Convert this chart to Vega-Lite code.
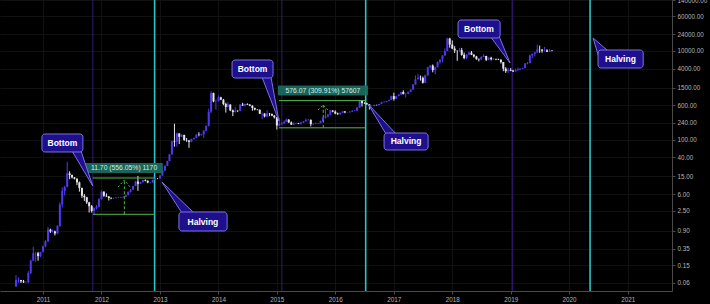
{
  "$schema": "https://vega.github.io/schema/vega-lite/v6.json",
  "autosize": "none",
  "width": 672,
  "height": 291,
  "padding": {"left": 0, "top": 0, "right": 38, "bottom": 13},
  "background": "#000000",
  "config": {
    "view": {"stroke": null},
    "axis": {"gridColor": "#111111", "domainColor": "#4a4a4a", "tickColor": "#4a4a4a", "labelColor": "#b4b4b4", "labelFont": "Liberation Sans", "labelFontSize": 6.3, "tickSize": 3, "labelPadding": 2, "grid": true}
  },
  "datasets": {
    "btc": [
      {"d":"2010-07-16","o":0.05,"h":0.09,"l":0.05,"c":0.07},
      {"d":"2010-08-01","o":0.07,"h":0.08,"l":0.06,"c":0.07},
      {"d":"2010-08-16","o":0.07,"h":0.07,"l":0.06,"c":0.065},
      {"d":"2010-09-01","o":0.065,"h":0.07,"l":0.06,"c":0.062},
      {"d":"2010-09-16","o":0.062,"h":0.065,"l":0.06,"c":0.062},
      {"d":"2010-10-01","o":0.062,"h":0.11,"l":0.06,"c":0.1},
      {"d":"2010-10-16","o":0.1,"h":0.2,"l":0.095,"c":0.19},
      {"d":"2010-11-01","o":0.19,"h":0.39,"l":0.19,"c":0.28},
      {"d":"2010-11-16","o":0.28,"h":0.3,"l":0.18,"c":0.28},
      {"d":"2010-12-01","o":0.28,"h":0.3,"l":0.19,"c":0.24},
      {"d":"2010-12-16","o":0.24,"h":0.3,"l":0.23,"c":0.3},
      {"d":"2011-01-01","o":0.3,"h":0.42,"l":0.29,"c":0.4},
      {"d":"2011-01-16","o":0.4,"h":0.55,"l":0.38,"c":0.52},
      {"d":"2011-02-01","o":0.52,"h":1.1,"l":0.5,"c":0.95},
      {"d":"2011-02-16","o":0.95,"h":1.0,"l":0.8,"c":0.86},
      {"d":"2011-03-01","o":0.86,"h":0.95,"l":0.82,"c":0.87},
      {"d":"2011-03-16","o":0.87,"h":0.9,"l":0.7,"c":0.78},
      {"d":"2011-04-01","o":0.78,"h":1.2,"l":0.75,"c":1.15},
      {"d":"2011-04-16","o":1.15,"h":3.9,"l":1.1,"c":3.5},
      {"d":"2011-05-01","o":3.5,"h":8.5,"l":3.0,"c":7.0},
      {"d":"2011-05-16","o":7.0,"h":9.2,"l":5.6,"c":8.7},
      {"d":"2011-06-01","o":8.7,"h":31.9,"l":8.5,"c":17.5},
      {"d":"2011-06-16","o":17.5,"h":19.5,"l":13,"c":16.1},
      {"d":"2011-07-01","o":16.1,"h":16.5,"l":13.5,"c":14.2},
      {"d":"2011-07-16","o":14.2,"h":14.5,"l":12.8,"c":13.3},
      {"d":"2011-08-01","o":13.3,"h":13.5,"l":9.5,"c":11.0},
      {"d":"2011-08-16","o":11.0,"h":11.5,"l":6.8,"c":8.2},
      {"d":"2011-09-01","o":8.2,"h":8.4,"l":4.9,"c":5.5},
      {"d":"2011-09-16","o":5.5,"h":6.0,"l":4.2,"c":5.1},
      {"d":"2011-10-01","o":5.1,"h":5.2,"l":3.6,"c":3.9},
      {"d":"2011-10-16","o":3.9,"h":4.0,"l":2.3,"c":3.2},
      {"d":"2011-11-01","o":3.2,"h":3.4,"l":2.3,"c":2.5},
      {"d":"2011-11-16","o":2.5,"h":3.0,"l":2.0,"c":2.9},
      {"d":"2011-12-01","o":2.9,"h":3.4,"l":2.7,"c":3.1},
      {"d":"2011-12-16","o":3.1,"h":4.8,"l":3.0,"c":4.6},
      {"d":"2012-01-01","o":4.6,"h":7.2,"l":4.5,"c":6.8},
      {"d":"2012-01-16","o":6.8,"h":6.9,"l":5.2,"c":5.5},
      {"d":"2012-02-01","o":5.5,"h":6.2,"l":5.2,"c":5.3},
      {"d":"2012-02-16","o":5.3,"h":5.4,"l":4.3,"c":4.9},
      {"d":"2012-03-01","o":4.9,"h":5.1,"l":4.6,"c":4.8},
      {"d":"2012-03-16","o":4.8,"h":5.0,"l":4.7,"c":4.9},
      {"d":"2012-04-01","o":4.9,"h":5.1,"l":4.8,"c":5.0},
      {"d":"2012-04-16","o":5.0,"h":5.2,"l":4.9,"c":5.05},
      {"d":"2012-05-01","o":5.05,"h":5.2,"l":4.9,"c":5.1},
      {"d":"2012-05-16","o":5.1,"h":5.3,"l":5.0,"c":5.2},
      {"d":"2012-06-01","o":5.2,"h":5.8,"l":5.1,"c":5.7},
      {"d":"2012-06-16","o":5.7,"h":6.9,"l":5.6,"c":6.7},
      {"d":"2012-07-01","o":6.7,"h":7.8,"l":6.5,"c":7.5},
      {"d":"2012-07-16","o":7.5,"h":9.3,"l":7.4,"c":9.1},
      {"d":"2012-08-01","o":9.1,"h":11.8,"l":9.0,"c":11.5},
      {"d":"2012-08-16","o":11.5,"h":15.4,"l":7.1,"c":10.2},
      {"d":"2012-09-01","o":10.2,"h":11.3,"l":10.0,"c":11.1},
      {"d":"2012-09-16","o":11.1,"h":12.6,"l":11.0,"c":12.4},
      {"d":"2012-10-01","o":12.4,"h":12.9,"l":11.6,"c":12.0},
      {"d":"2012-10-16","o":12.0,"h":12.1,"l":10.5,"c":10.9},
      {"d":"2012-11-01","o":10.9,"h":11.2,"l":10.4,"c":11.0},
      {"d":"2012-11-16","o":11.0,"h":12.7,"l":10.9,"c":12.5},
      {"d":"2012-12-01","o":12.5,"h":13.8,"l":12.4,"c":13.6},
      {"d":"2012-12-16","o":13.6,"h":13.7,"l":13.0,"c":13.5},
      {"d":"2013-01-01","o":13.5,"h":15.9,"l":13.2,"c":15.7},
      {"d":"2013-01-16","o":15.7,"h":20.6,"l":15.3,"c":20.4},
      {"d":"2013-02-01","o":20.4,"h":26.5,"l":19.5,"c":26.0},
      {"d":"2013-02-16","o":26.0,"h":33.8,"l":25.8,"c":33.4},
      {"d":"2013-03-01","o":33.4,"h":48,"l":33,"c":47},
      {"d":"2013-03-16","o":47,"h":95,"l":46,"c":93},
      {"d":"2013-04-01","o":93,"h":230,"l":70,"c":90},
      {"d":"2013-04-16","o":90,"h":145,"l":70,"c":139},
      {"d":"2013-05-01","o":139,"h":140,"l":80,"c":117},
      {"d":"2013-05-16","o":117,"h":133,"l":115,"c":129},
      {"d":"2013-06-01","o":129,"h":129,"l":95,"c":99},
      {"d":"2013-06-16","o":99,"h":110,"l":90,"c":97},
      {"d":"2013-07-01","o":97,"h":97,"l":66,"c":90},
      {"d":"2013-07-16","o":90,"h":105,"l":88,"c":105},
      {"d":"2013-08-01","o":105,"h":112,"l":100,"c":110},
      {"d":"2013-08-16","o":110,"h":135,"l":108,"c":130},
      {"d":"2013-09-01","o":130,"h":148,"l":120,"c":128},
      {"d":"2013-09-16","o":128,"h":136,"l":124,"c":133},
      {"d":"2013-10-01","o":133,"h":165,"l":110,"c":160},
      {"d":"2013-10-16","o":160,"h":210,"l":155,"c":205},
      {"d":"2013-11-01","o":205,"h":500,"l":200,"c":430},
      {"d":"2013-11-16","o":430,"h":1240,"l":400,"c":1130},
      {"d":"2013-12-01","o":1130,"h":1150,"l":700,"c":730},
      {"d":"2013-12-16","o":730,"h":800,"l":480,"c":735},
      {"d":"2014-01-01","o":735,"h":1000,"l":730,"c":900},
      {"d":"2014-01-16","o":900,"h":930,"l":780,"c":800},
      {"d":"2014-02-01","o":800,"h":830,"l":600,"c":640},
      {"d":"2014-02-16","o":640,"h":680,"l":410,"c":550},
      {"d":"2014-03-01","o":550,"h":700,"l":540,"c":620},
      {"d":"2014-03-16","o":620,"h":630,"l":440,"c":460},
      {"d":"2014-04-01","o":460,"h":480,"l":340,"c":420},
      {"d":"2014-04-16","o":420,"h":550,"l":410,"c":450},
      {"d":"2014-05-01","o":450,"h":460,"l":420,"c":445},
      {"d":"2014-05-16","o":445,"h":630,"l":440,"c":620},
      {"d":"2014-06-01","o":620,"h":680,"l":580,"c":590},
      {"d":"2014-06-16","o":590,"h":650,"l":560,"c":640},
      {"d":"2014-07-01","o":640,"h":660,"l":610,"c":620},
      {"d":"2014-07-16","o":620,"h":630,"l":570,"c":585},
      {"d":"2014-08-01","o":585,"h":600,"l":450,"c":520},
      {"d":"2014-08-16","o":520,"h":530,"l":460,"c":480},
      {"d":"2014-09-01","o":480,"h":490,"l":460,"c":475},
      {"d":"2014-09-16","o":475,"h":480,"l":380,"c":385},
      {"d":"2014-10-01","o":385,"h":410,"l":290,"c":390},
      {"d":"2014-10-16","o":390,"h":395,"l":320,"c":335},
      {"d":"2014-11-01","o":335,"h":460,"l":320,"c":390},
      {"d":"2014-11-16","o":390,"h":400,"l":340,"c":380},
      {"d":"2014-12-01","o":380,"h":390,"l":340,"c":350},
      {"d":"2014-12-16","o":350,"h":360,"l":300,"c":320},
      {"d":"2015-01-01","o":320,"h":320,"l":170,"c":210},
      {"d":"2015-01-16","o":210,"h":310,"l":200,"c":230},
      {"d":"2015-02-01","o":230,"h":250,"l":215,"c":235},
      {"d":"2015-02-16","o":235,"h":270,"l":230,"c":255},
      {"d":"2015-03-01","o":255,"h":300,"l":255,"c":285},
      {"d":"2015-03-16","o":285,"h":290,"l":240,"c":245},
      {"d":"2015-04-01","o":245,"h":260,"l":215,"c":220},
      {"d":"2015-04-16","o":220,"h":245,"l":215,"c":235},
      {"d":"2015-05-01","o":235,"h":245,"l":228,"c":237},
      {"d":"2015-05-16","o":237,"h":240,"l":225,"c":230},
      {"d":"2015-06-01","o":230,"h":250,"l":220,"c":245},
      {"d":"2015-06-16","o":245,"h":265,"l":240,"c":260},
      {"d":"2015-07-01","o":260,"h":300,"l":255,"c":280},
      {"d":"2015-07-16","o":280,"h":295,"l":270,"c":282},
      {"d":"2015-08-01","o":282,"h":285,"l":200,"c":225},
      {"d":"2015-08-16","o":225,"h":235,"l":215,"c":230},
      {"d":"2015-09-01","o":230,"h":245,"l":225,"c":232},
      {"d":"2015-09-16","o":232,"h":240,"l":225,"c":237},
      {"d":"2015-10-01","o":237,"h":270,"l":235,"c":265},
      {"d":"2015-10-16","o":265,"h":320,"l":260,"c":315},
      {"d":"2015-11-01","o":315,"h":500,"l":300,"c":335},
      {"d":"2015-11-16","o":335,"h":380,"l":320,"c":370},
      {"d":"2015-12-01","o":370,"h":470,"l":355,"c":455},
      {"d":"2015-12-16","o":455,"h":465,"l":415,"c":430},
      {"d":"2016-01-01","o":430,"h":460,"l":375,"c":390},
      {"d":"2016-01-16","o":390,"h":410,"l":365,"c":375},
      {"d":"2016-02-01","o":375,"h":410,"l":365,"c":405},
      {"d":"2016-02-16","o":405,"h":440,"l":395,"c":435},
      {"d":"2016-03-01","o":435,"h":440,"l":395,"c":415},
      {"d":"2016-03-16","o":415,"h":420,"l":405,"c":416},
      {"d":"2016-04-01","o":416,"h":435,"l":410,"c":430},
      {"d":"2016-04-16","o":430,"h":465,"l":425,"c":450},
      {"d":"2016-05-01","o":450,"h":465,"l":440,"c":455},
      {"d":"2016-05-16","o":455,"h":550,"l":440,"c":530},
      {"d":"2016-06-01","o":530,"h":780,"l":530,"c":760},
      {"d":"2016-06-16","o":760,"h":770,"l":560,"c":670},
      {"d":"2016-07-01","o":670,"h":700,"l":640,"c":665},
      {"d":"2016-07-16","o":665,"h":680,"l":620,"c":625},
      {"d":"2016-08-01","o":625,"h":630,"l":480,"c":575},
      {"d":"2016-08-16","o":575,"h":590,"l":565,"c":578},
      {"d":"2016-09-01","o":578,"h":615,"l":570,"c":610},
      {"d":"2016-09-16","o":610,"h":615,"l":590,"c":605},
      {"d":"2016-10-01","o":605,"h":645,"l":600,"c":640},
      {"d":"2016-10-16","o":640,"h":720,"l":630,"c":700},
      {"d":"2016-11-01","o":700,"h":740,"l":690,"c":710},
      {"d":"2016-11-16","o":710,"h":750,"l":700,"c":745},
      {"d":"2016-12-01","o":745,"h":795,"l":740,"c":790},
      {"d":"2016-12-16","o":790,"h":980,"l":785,"c":960},
      {"d":"2017-01-01","o":960,"h":1150,"l":760,"c":830},
      {"d":"2017-01-16","o":830,"h":975,"l":820,"c":970},
      {"d":"2017-02-01","o":970,"h":1060,"l":950,"c":1040},
      {"d":"2017-02-16","o":1040,"h":1210,"l":1030,"c":1190},
      {"d":"2017-03-01","o":1190,"h":1300,"l":1050,"c":1070},
      {"d":"2017-03-16","o":1070,"h":1110,"l":890,"c":1080},
      {"d":"2017-04-01","o":1080,"h":1210,"l":1060,"c":1200},
      {"d":"2017-04-16","o":1200,"h":1360,"l":1180,"c":1350},
      {"d":"2017-05-01","o":1350,"h":1800,"l":1340,"c":1750},
      {"d":"2017-05-16","o":1750,"h":2800,"l":1740,"c":2300},
      {"d":"2017-06-01","o":2300,"h":3000,"l":2300,"c":2500},
      {"d":"2017-06-16","o":2500,"h":2800,"l":2150,"c":2480},
      {"d":"2017-07-01","o":2480,"h":2650,"l":1840,"c":1920},
      {"d":"2017-07-16","o":1920,"h":2900,"l":1900,"c":2850},
      {"d":"2017-08-01","o":2850,"h":4400,"l":2700,"c":4300},
      {"d":"2017-08-16","o":4300,"h":4750,"l":3950,"c":4700},
      {"d":"2017-09-01","o":4700,"h":4950,"l":3300,"c":3700},
      {"d":"2017-09-16","o":3700,"h":4400,"l":3000,"c":4300},
      {"d":"2017-10-01","o":4300,"h":5800,"l":4250,"c":5600},
      {"d":"2017-10-16","o":5600,"h":6450,"l":5150,"c":6400},
      {"d":"2017-11-01","o":6400,"h":7900,"l":5600,"c":7900},
      {"d":"2017-11-16","o":7900,"h":11400,"l":7700,"c":9900},
      {"d":"2017-12-01","o":9900,"h":19800,"l":9900,"c":19000},
      {"d":"2017-12-16","o":19000,"h":19700,"l":11800,"c":13900},
      {"d":"2018-01-01","o":13900,"h":17200,"l":11000,"c":11300},
      {"d":"2018-01-16","o":11300,"h":12800,"l":9000,"c":10200},
      {"d":"2018-02-01","o":10200,"h":10300,"l":6000,"c":10100},
      {"d":"2018-02-16","o":10100,"h":11700,"l":9400,"c":10400},
      {"d":"2018-03-01","o":10400,"h":11700,"l":7800,"c":8200},
      {"d":"2018-03-16","o":8200,"h":9200,"l":6500,"c":6900},
      {"d":"2018-04-01","o":6900,"h":8400,"l":6500,"c":8300},
      {"d":"2018-04-16","o":8300,"h":9750,"l":8000,"c":9200},
      {"d":"2018-05-01","o":9200,"h":9950,"l":8050,"c":8200},
      {"d":"2018-05-16","o":8200,"h":8500,"l":7050,"c":7500},
      {"d":"2018-06-01","o":7500,"h":7750,"l":6350,"c":6500},
      {"d":"2018-06-16","o":6500,"h":6800,"l":5800,"c":6400},
      {"d":"2018-07-01","o":6400,"h":7550,"l":6300,"c":7300},
      {"d":"2018-07-16","o":7300,"h":8500,"l":7200,"c":7700},
      {"d":"2018-08-01","o":7700,"h":7750,"l":5900,"c":6300},
      {"d":"2018-08-16","o":6300,"h":7150,"l":6200,"c":7000},
      {"d":"2018-09-01","o":7000,"h":7400,"l":6100,"c":6500},
      {"d":"2018-09-16","o":6500,"h":6800,"l":6300,"c":6600},
      {"d":"2018-10-01","o":6600,"h":6700,"l":6200,"c":6450},
      {"d":"2018-10-16","o":6450,"h":6700,"l":6250,"c":6300},
      {"d":"2018-11-01","o":6300,"h":6550,"l":5200,"c":5600},
      {"d":"2018-11-16","o":5600,"h":5650,"l":3500,"c":4000},
      {"d":"2018-12-01","o":4000,"h":4300,"l":3200,"c":3500},
      {"d":"2018-12-16","o":3500,"h":4200,"l":3200,"c":3750},
      {"d":"2019-01-01","o":3750,"h":4100,"l":3500,"c":3600},
      {"d":"2019-01-16","o":3600,"h":3750,"l":3350,"c":3450},
      {"d":"2019-02-01","o":3450,"h":4000,"l":3400,"c":3650},
      {"d":"2019-02-16","o":3650,"h":4200,"l":3600,"c":3800},
      {"d":"2019-03-01","o":3800,"h":4050,"l":3700,"c":3950},
      {"d":"2019-03-16","o":3950,"h":4150,"l":3900,"c":4100},
      {"d":"2019-04-01","o":4100,"h":5400,"l":4100,"c":5200},
      {"d":"2019-04-16","o":5200,"h":5600,"l":5000,"c":5300},
      {"d":"2019-05-01","o":5300,"h":8300,"l":5300,"c":7900},
      {"d":"2019-05-16","o":7900,"h":8700,"l":6900,"c":8600},
      {"d":"2019-06-01","o":8600,"h":9400,"l":7500,"c":9300},
      {"d":"2019-06-16","o":9300,"h":13800,"l":9000,"c":10800},
      {"d":"2019-07-01","o":10800,"h":13200,"l":9100,"c":10700},
      {"d":"2019-07-16","o":10700,"h":11000,"l":9100,"c":10100},
      {"d":"2019-08-01","o":10100,"h":12300,"l":9700,"c":10300},
      {"d":"2019-08-16","o":10300,"h":10900,"l":9400,"c":9600},
      {"d":"2019-09-01","o":9600,"h":10950,"l":9500,"c":10200},
      {"d":"2019-09-16","o":10200,"h":10300,"l":9800,"c":10000}
    ],
    "vlines": [
      {"d":"2011-11-08","k":"bottom"},
      {"d":"2015-02-01","k":"bottom"},
      {"d":"2019-01-13","k":"bottom"},
      {"d":"2012-11-28","k":"halving"},
      {"d":"2016-07-09","k":"halving"},
      {"d":"2020-05-11","k":"halving"}
    ],
    "ranges": [
      {"a":"2011-11-08","b":"2012-11-28","p":13.8},
      {"a":"2011-11-08","b":"2012-11-28","p":2.104},
      {"a":"2015-01-14","b":"2016-07-09","p":761.9},
      {"a":"2015-01-14","b":"2016-07-09","p":185.9}
    ],
    "arrows": [
      {"d":"2012-05-23","lo":2.104,"hi":12.4},
      {"d":"2015-10-18","lo":185.9,"hi":606}
    ],
    "chevrons": [
      {"g":"m1","k":1,"d":"2012-04-14","p":8.66},
      {"g":"m1","k":2,"d":"2012-05-23","p":12.4},
      {"g":"m1","k":3,"d":"2012-06-28","p":8.66},
      {"g":"m2","k":1,"d":"2015-09-15","p":468},
      {"g":"m2","k":2,"d":"2015-10-18","p":606},
      {"g":"m2","k":3,"d":"2015-11-16","p":468}
    ],
    "labels": [
      {"x1":"2011-09-19","x2":"2013-01-19","y1":17.88,"y2":30.01,"tx":"2012-05-21","ty":23.17,"t":"11.70 (556.05%) 1170"},
      {"x1":"2015-01-08","x2":"2016-07-24","y1":992.2,"y2":1666,"tx":"2015-10-16","ty":1285.6,"t":"576.07 (309.91%) 57607"}
    ],
    "tails": [
      {"g":"b1","k":1,"d":"2011-07-01","p":55.9},
      {"g":"b1","k":2,"d":"2011-11-08","p":9.11},
      {"g":"b1","k":3,"d":"2011-08-26","p":55.9},
      {"g":"h1","k":1,"d":"2013-05-18","p":2.25},
      {"g":"h1","k":2,"d":"2013-01-13","p":11.2},
      {"g":"h1","k":3,"d":"2013-08-01","p":2.25},
      {"g":"b2","k":1,"d":"2014-09-30","p":2588},
      {"g":"b2","k":2,"d":"2015-01-14","p":264.7},
      {"g":"b2","k":3,"d":"2014-11-25","p":2588},
      {"g":"h2","k":1,"d":"2016-11-13","p":134.9},
      {"g":"h2","k":2,"d":"2016-07-24","p":638.8},
      {"g":"h2","k":3,"d":"2017-01-15","p":134.9},
      {"g":"b3","k":1,"d":"2018-08-25","p":21660},
      {"g":"b3","k":2,"d":"2018-12-28","p":5346},
      {"g":"b3","k":3,"d":"2018-10-20","p":21660},
      {"g":"h3","k":1,"d":"2020-07-06","p":6928},
      {"g":"h3","k":2,"d":"2020-05-30","p":19530},
      {"g":"h3","k":3,"d":"2020-09-01","p":9956}
    ],
    "callouts": [
      {"x1":"2010-12-25","x2":"2011-09-07","y1":53.1,"y2":134.9,"tx":"2011-05-02","ty":84.6,"t":"Bottom"},
      {"x1":"2013-04-29","x2":"2014-02-24","y1":0.885,"y2":2.37,"tx":"2013-09-26","ty":1.448,"t":"Halving"},
      {"x1":"2014-03-27","x2":"2014-12-08","y1":2458,"y2":6245,"tx":"2014-08-02","ty":3917,"t":"Bottom"},
      {"x1":"2016-11-01","x2":"2017-08-03","y1":58.9,"y2":142.1,"tx":"2017-03-18","ty":91.5,"t":"Halving"},
      {"x1":"2018-02-06","x2":"2018-10-27","y1":19530,"y2":49640,"tx":"2018-06-17","ty":31140,"t":"Bottom"},
      {"x1":"2020-06-30","x2":"2021-04-08","y1":4126,"y2":10486,"tx":"2020-11-17","ty":6578,"t":"Halving"}
    ]
  },
  "layer": [
    {
      "data": {"name": "vlines"},
      "mark": {"type": "rule"},
      "encoding": {
        "x": {"field": "d", "type": "temporal", "scale": {"domain": [{"year": 2010, "month": 4, "date": 7}, {"year": 2021, "month": 10, "date": 5}], "nice": false},
              "axis": {"orient": "bottom", "format": "%Y", "tickCount": {"interval": "year", "step": 1}, "title": null}},
        "color": {"field": "k", "type": "nominal", "scale": {"domain": ["bottom", "halving"], "range": ["#33186f", "#2bc4c4"]}, "legend": null},
        "strokeWidth": {"field": "k", "type": "nominal", "scale": {"domain": ["bottom", "halving"], "range": [1, 1.6]}, "legend": null}
      }
    },
    {
      "data": {"name": "btc"},
      "mark": {"type": "rule", "strokeWidth": 1},
      "encoding": {
        "x": {"field": "d", "type": "temporal", "axis": {"title": null}},
        "y": {"field": "l", "type": "quantitative", "scale": {"type": "log", "domain": [0.0395, 140000], "nice": false},
              "axis": {"orient": "right", "values": [0.06, 0.15, 0.35, 0.9, 2.5, 6, 15, 40, 100, 240, 600, 1500, 4000, 10000, 24000, 60000, 140000], "format": ".2f", "title": null, "labelOverlap": false, "labelFlush": false}},
        "y2": {"field": "h"},
        "color": {"condition": {"test": "datum.c >= datum.o", "value": "#5038f0"}, "value": "#e6e6ee"}
      }
    },
    {
      "data": {"name": "btc"},
      "mark": {"type": "rule", "strokeWidth": 2},
      "encoding": {
        "x": {"field": "d", "type": "temporal", "axis": {"title": null}},
        "y": {"field": "o", "type": "quantitative", "axis": {"title": null}},
        "y2": {"field": "c"},
        "color": {"condition": {"test": "datum.c >= datum.o", "value": "#5038f0"}, "value": "#e6e6ee"}
      }
    },
    {
      "data": {"name": "ranges"},
      "mark": {"type": "rule", "color": "#55b949", "strokeWidth": 1},
      "encoding": {
        "x": {"field": "a", "type": "temporal", "axis": {"title": null}},
        "x2": {"field": "b"},
        "y": {"field": "p", "type": "quantitative", "axis": {"title": null}}
      }
    },
    {
      "data": {"name": "arrows"},
      "mark": {"type": "rule", "color": "#55b949", "strokeWidth": 1, "strokeDash": [3, 2]},
      "encoding": {
        "x": {"field": "d", "type": "temporal", "axis": {"title": null}},
        "y": {"field": "lo", "type": "quantitative", "axis": {"title": null}},
        "y2": {"field": "hi"}
      }
    },
    {
      "data": {"name": "chevrons"},
      "mark": {"type": "line", "color": "#55b949", "strokeWidth": 1, "strokeDash": [2, 2]},
      "encoding": {
        "x": {"field": "d", "type": "temporal", "axis": {"title": null}},
        "y": {"field": "p", "type": "quantitative", "axis": {"title": null}},
        "detail": {"field": "g"},
        "order": {"field": "k"}
      }
    },
    {
      "data": {"name": "labels"},
      "mark": {"type": "rect", "fill": "#1b6b60", "opacity": 0.92, "cornerRadius": 1},
      "encoding": {
        "x": {"field": "x1", "type": "temporal", "axis": {"title": null}},
        "x2": {"field": "x2"},
        "y": {"field": "y1", "type": "quantitative", "axis": {"title": null}},
        "y2": {"field": "y2"}
      }
    },
    {
      "data": {"name": "labels"},
      "mark": {"type": "text", "color": "#d2efe8", "font": "Liberation Sans", "fontSize": 6.8, "align": "center", "baseline": "middle"},
      "encoding": {
        "x": {"field": "tx", "type": "temporal", "axis": {"title": null}},
        "y": {"field": "ty", "type": "quantitative", "axis": {"title": null}},
        "text": {"field": "t"}
      }
    },
    {
      "data": {"name": "tails"},
      "mark": {"type": "line", "interpolate": "linear-closed", "fill": "#1e108c", "stroke": "#7d70e0", "strokeWidth": 1},
      "encoding": {
        "x": {"field": "d", "type": "temporal", "axis": {"title": null}},
        "y": {"field": "p", "type": "quantitative", "axis": {"title": null}},
        "detail": {"field": "g"},
        "order": {"field": "k"}
      }
    },
    {
      "data": {"name": "callouts"},
      "mark": {"type": "rect", "fill": "#1e108c", "stroke": "#7d70e0", "strokeWidth": 1, "cornerRadius": 3},
      "encoding": {
        "x": {"field": "x1", "type": "temporal", "axis": {"title": null}},
        "x2": {"field": "x2"},
        "y": {"field": "y1", "type": "quantitative", "axis": {"title": null}},
        "y2": {"field": "y2"}
      }
    },
    {
      "data": {"name": "callouts"},
      "mark": {"type": "text", "color": "#ffffff", "font": "Liberation Sans", "fontWeight": "bold", "fontSize": 8.5, "align": "center", "baseline": "middle"},
      "encoding": {
        "x": {"field": "tx", "type": "temporal", "axis": {"title": null}},
        "y": {"field": "ty", "type": "quantitative", "axis": {"title": null}},
        "text": {"field": "t"}
      }
    }
  ]
}
